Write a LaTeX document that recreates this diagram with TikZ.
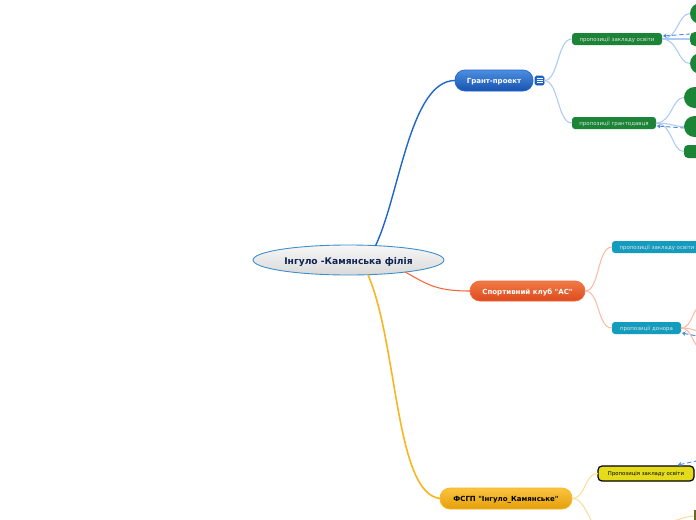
\documentclass[tikz,border=0pt]{standalone}
\usepackage{fontspec}
\setmainfont{DejaVu Sans}[Ligatures=TeXOff]
\usepackage{xcolor}
\usetikzlibrary{arrows.meta,positioning,calc,shapes.geometric,shapes.misc}
\definecolor{blueline}{HTML}{1F66CF}
\definecolor{bluelight}{HTML}{ABCBF7}
\definecolor{orangeline}{HTML}{F4653A}
\definecolor{orangelight}{HTML}{FBBBA5}
\definecolor{goldline}{HTML}{F9B51E}
\definecolor{goldlight}{HTML}{FBDD9C}
\definecolor{leafgreen}{HTML}{1B8437}
\definecolor{tealbox}{HTML}{149CBF}
\definecolor{ringblue}{HTML}{3C8DC9}
\definecolor{inkblue}{HTML}{0F2350}
\definecolor{grantup}{HTML}{4C8FE0}
\definecolor{grantdown}{HTML}{1752B0}
\definecolor{sportup}{HTML}{F07A45}
\definecolor{sportdown}{HTML}{DD4A1E}
\definecolor{fsgpup}{HTML}{FAC440}
\definecolor{fsgpdown}{HTML}{E59F0A}
\definecolor{yellowfill}{HTML}{E4DC1A}

\begin{document}
\begin{tikzpicture}[
    x=0.2mm,
    y=-0.2mm,
    >={Stealth[length=2pt,width=2.6pt]},
    outer sep=0pt,
    topic/.style={
        rounded corners=2mm,
        font=\fontsize{4}{6}\selectfont\bfseries,
        line width=0.4pt,
        text height=3.6pt,
        text depth=0pt,
        inner sep=0pt
    },
    small/.style={
        rounded corners=0.6mm,
        text=white!90!black,
        font=\fontsize{3.1}{4}\selectfont,
        minimum height=2.4mm,
        text depth=0pt,
        inner sep=0pt
    },
    leaf/.style={
        fill=leafgreen,
        minimum width=6mm
    },
    link/.style={line width=0.6pt},
    back/.style={<-, dash pattern=on 2.5pt off 1.5pt, draw=blueline!80!white, line width=0.5pt}
]

\clip (0,0) rectangle (696,520);
\fill[white] (0,0) rectangle (696,520);

% main nodes
\node[ellipse, draw=ringblue, line width=0.5pt, top color=gray!6, bottom color=gray!30,
    minimum width=38.2mm, minimum height=6mm, inner sep=0pt, text=inkblue, text height=4.6pt, text depth=0pt,
    font=\fontsize{5.2}{6}\selectfont\bfseries] (central) at (348.5,260) {Інгуло -Камянська філія};

\node[topic, draw=blueline, top color=grantup, bottom color=grantdown, text=white,
    minimum width=15.6mm, minimum height=4.2mm] (grant) at (494,80.5) {Грант-проект};
\node[topic, draw=orangeline, top color=sportup, bottom color=sportdown, text=white,
    minimum width=23mm, minimum height=4mm] (sport) at (527.5,291) {Спортивний клуб "АС"};
\node[topic, draw=goldline, top color=fsgpup, bottom color=fsgpdown, text=black,
    minimum width=26.4mm, minimum height=4.2mm] (fsgp) at (506,498.5) {ФСГП "Інгуло\_Камянське"};

\node[draw=blueline!80!black, fill=blueline, rounded corners=0.3mm, minimum size=1.8mm, inner sep=0pt] (expand) at (539.5,80.5) {};
\foreach \dy in {-2,0,2}
    \draw[white, line width=0.3pt] ($(expand.center)+(-3,\dy)$) -- ($(expand.center)+(3,\dy)$);

% second level
\node[small, fill=leafgreen, minimum width=18mm] (school) at (617,39) {пропозиції закладу освіти};
\node[small, fill=leafgreen, minimum width=16.8mm] (giver) at (614,123) {пропозиції грантодавця};
\node[small, fill=tealbox, minimum width=18mm] (schooltwo) at (657,247) {пропозиції закладу освіти};
\node[small, fill=tealbox, minimum width=13.8mm] (donor) at (646.5,328) {пропозиції донора};
\node[draw=black, line width=0.7pt, fill=yellowfill, rounded corners=0.8mm, minimum width=19.2mm, minimum height=3mm,
    text depth=0pt, inner sep=0pt, font=\fontsize{3.05}{4}\selectfont] (yellowbox) at (646,473.5) {Пропозиція закладу освіти};

% leaves, cut by the page edge
\node[leaf, rounded rectangle, minimum height=4.2mm, inner sep=0pt] (leafa) at (705,13.5) {};
\node[leaf, rounded corners=1mm, minimum height=2.8mm] (leafb) at (705,39) {};
\node[leaf, rounded rectangle, minimum height=4.2mm, inner sep=0pt] (leafc) at (705,63.5) {};
\node[leaf, rounded rectangle, minimum height=4.2mm, inner sep=0pt] (leafd) at (699,97.5) {};
\node[leaf, rounded rectangle, minimum height=4.2mm, inner sep=0pt] (leafe) at (699,126.5) {};
\node[leaf, rounded corners=0.8mm, minimum height=2.6mm] (leaff) at (699,151.5) {};

\coordinate (donorup) at (702,306);
\coordinate (donormid) at (702,331);
\coordinate (donordown) at (702,348);
\coordinate (donorback) at (697,336);
\coordinate (yellowback) at (696,461);
\coordinate (fsgpbelow) at (594,526);
\coordinate (goldend) at (694,516);
\coordinate (goldstart) at (672,522);
\coordinate (schoolback) at (690,34);
\coordinate (giverback) at (684,128);

% main branches
\draw[blueline, line width=0.8pt] (central.28) .. controls +(24,-50) and +(-45,0) .. (grant.west);
\draw[orangeline, line width=0.6pt] (central.-12) .. controls +(22,12) and +(-35,0) .. (sport.west);
\draw[goldline, line width=0.9pt] (central.-37) .. controls +(30,70) and +(-45,-5) .. (fsgp.west);
\draw[bluelight, link] (grant.east) -- (expand.west);

% sub branches
\draw[bluelight, link] (expand.east) .. controls +(15,0) and +(-15,0) .. (school.west);
\draw[bluelight, link] (expand.east) .. controls +(15,0) and +(-15,0) .. (giver.west);
\draw[orangelight, link] (sport.east) .. controls +(15,0) and +(-15,0) .. (schooltwo.west);
\draw[orangelight, link] (sport.east) .. controls +(15,0) and +(-15,0) .. (donor.west);
\draw[goldlight, link] (fsgp.east) .. controls +(14,0) and +(-14,0) .. (yellowbox.west);
\draw[goldlight, link] (fsgp.east) .. controls +(10,0) and +(-8,-15) .. (fsgpbelow);

\foreach \target in {leafa,leafb,leafc}
    \draw[bluelight, link] (school.east) .. controls +(16,0) and +(-12,0) .. (\target.west);
\foreach \target in {leafd,leafe,leaff}
    \draw[bluelight, link] (giver.east) .. controls +(16,0) and +(-12,0) .. (\target.west);
\foreach \target in {donorup,donormid,donordown}
    \draw[orangelight, link] (donor.east) .. controls +(12,0) and +(-10,0) .. (\target);
\draw[goldlight, link] (goldstart) .. controls +(6,-3) and +(-5,0) .. (goldend);
\fill[olive!70!black] (694,510) rectangle (696,520);

% dashed returns
\draw[back] (school.east)++(1,-3) -- (schoolback);
\draw[back] (giver.east)++(1,3) -- (giverback);
\draw[back] (donor.east)++(1,5) -- (donorback);
\draw[back] (yellowbox.north east)++(-16,-1) -- (yellowback);

\end{tikzpicture}
\end{document}
